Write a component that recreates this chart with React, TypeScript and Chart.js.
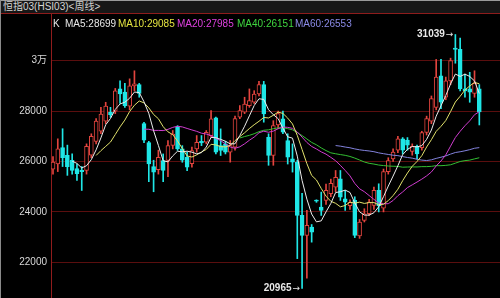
import React, { useEffect, useRef } from 'react';
import { Chart, registerables } from 'chart.js';

Chart.register(...registerables);

// Weekly candles (open / high / low / close)
const opens = [
  25700, 25900, 26550, 26250, 26050, 25720, 25650, 25650, 26250, 26800,
  27200, 27600, 27950, 28000, 28880, 28750, 28200, 29000, 29050, 27500,
  26750, 25800, 25680, 26040, 26040, 26640, 27360, 26500, 26170, 25910,
  26500, 26800, 26770, 27030, 27730, 26634, 26700, 26370, 26570, 27760,
  27960, 28220, 28350, 28680, 29050, 26960, 26240, 27450, 27690, 26830,
  26106, 25974, 23862, 23070, 23400, 24440, 24190, 24456, 24720, 24984,
  25314, 24522, 24250, 24456, 23050, 23664, 23928, 24258, 24852, 24150,
  25600, 26106, 26450, 26900, 26850, 26400, 26600, 26550, 27150, 27600,
  28150, 29400, 28550, 29200, 30500, 30450, 28880, 28880, 28700, 28880,
];
const highs = [
  26200, 26900, 27300, 26650, 26300, 25900, 25800, 26700, 27100, 27700,
  28150, 28350, 28150, 28900, 29200, 29100, 29280, 29600, 29100, 27550,
  26800, 26050, 26450, 26300, 26830, 27230, 27420, 26630, 26370, 26570,
  27030, 27030, 27230, 28020, 27760, 27294, 26800, 26832, 27800, 28220,
  28550, 28880, 28810, 29180, 29180, 27100, 27620, 28000, 28000, 27100,
  26700, 26050, 24733, 24060, 23500, 24480, 24785, 25100, 25300, 25644,
  25644, 24852, 24480, 24600, 23700, 24126, 24500, 24990, 25116, 25700,
  26150, 26500, 27000, 26950, 26950, 26700, 26650, 27200, 27800, 28600,
  30050, 30050, 29350, 30100, 31039, 30900, 29470, 29540, 29600, 29050,
];
const lows = [
  25500, 25600, 25800, 25450, 25500, 25250, 24850, 25500, 26150, 26700,
  27100, 27500, 27750, 27900, 28300, 28150, 28050, 28800, 28550, 26750,
  25200, 24800, 25500, 25200, 25400, 26500, 26440, 25970, 25640, 25780,
  26370, 26630, 26700, 26960, 26300, 26238, 26300, 25974, 26450, 27700,
  27900, 28150, 28300, 28600, 27560, 25850, 25850, 27300, 27100, 25900,
  25580, 22146, 20965, 21370, 22800, 24380, 23860, 24300, 24600, 24800,
  24456, 24060, 24100, 22980, 22950, 23600, 23850, 24100, 24000, 24000,
  25500, 26000, 26350, 26300, 26450, 26250, 26100, 26450, 27050, 27500,
  28050, 28100, 28450, 29050, 29900, 28800, 28550, 28350, 28550, 27450,
];
const closes = [
  25980, 26500, 26150, 25800, 25650, 25520, 25600, 26600, 27000, 27600,
  27880, 28200, 27860, 28800, 28680, 28220, 29000, 29080, 28700, 26850,
  25900, 25580, 26170, 25650, 26630, 27090, 26500, 26050, 25780, 26430,
  26760, 26740, 27160, 27690, 26370, 26436, 26370, 26634, 27700, 28020,
  28280, 28420, 28680, 29050, 27890, 26240, 27430, 27900, 27160, 26170,
  25974, 23862, 23070, 23466, 23200, 24430, 24060, 24852, 25130, 25370,
  24588, 24390, 24380, 23070, 23600, 23928, 24390, 24852, 24250, 25600,
  26040, 26370, 26900, 26450, 26650, 26600, 26300, 27150, 27700, 28500,
  29350, 28350, 29200, 30000, 30450, 28880, 28800, 28750, 29100, 27970,
];

const yTickValues = [22000, 24000, 26000, 28000, 30000];
const maPeriods = [5, 10, 20, 40, 60];
const maNames = ['MA5', 'MA10', 'MA20', 'MA40', 'MA60'];
const maShown = [28699, 29085, 27985, 26151, 26553];
const titleText = '恒指03(HSI03)<周线>';

const maLineColors = ['#ececec', '#e2e26c', '#cf3ccf', '#33bf33', '#8282dc'];
const maTextColors = ['#e6e6e6', '#e4e440', '#df40df', '#3fd63f', '#8a8ae6'];
const legendLeft = [65, 118, 177, 237, 295];
const UP = '#e2443e';
const DOWN = '#1fe6e6';
const FONT = '"Liberation Sans", "Noto Sans CJK SC", sans-serif';

function movingAverage(values: number[], n: number) {
  return values.map((_, i) =>
    i < n - 1 ? null : values.slice(i - n + 1, i + 1).reduce((a, b) => a + b, 0) / n
  );
}

function drawMark(ctx: any, text: string, tipX: number, y: number) {
  ctx.font = '9px "DejaVu Sans", sans-serif';
  const aw = ctx.measureText('→').width;
  ctx.fillText('→', tipX, y);
  ctx.font = 'bold 10px ' + FONT;
  ctx.fillText(text, tipX - aw - 1, y);
}

const extremeLabels = {
  id: 'extremeLabels',
  afterDatasetsDraw(chart: any) {
    const { ctx, scales } = chart;
    const x = scales.x;
    const y = scales.y;
    let hi = 0;
    let lo = 0;
    highs.forEach((v, i) => { if (v > highs[hi]) hi = i; });
    lows.forEach((v, i) => { if (v < lows[lo]) lo = i; });
    ctx.save();
    ctx.fillStyle = '#e8e8e8';
    ctx.textAlign = 'right';
    ctx.textBaseline = 'middle';
    drawMark(ctx, String(highs[hi]), x.getPixelForValue(hi) - 2, y.getPixelForValue(highs[hi]));
    drawMark(ctx, String(lows[lo]), x.getPixelForValue(lo) - 2, y.getPixelForValue(lows[lo]));
    ctx.restore();
  },
};

export default function App() {
  const ref = useRef<HTMLCanvasElement | null>(null);

  useEffect(() => {
    document.body.style.margin = '0';
    document.body.style.background = '#000';
    if (!ref.current) return;
    const up = closes.map((c, i) => c >= opens[i]);
    const lineSets = maPeriods.map((p, k) => ({
      type: 'line' as const,
      data: movingAverage(closes, p).map((v, i) => ({ x: i, y: v })),
      borderColor: maLineColors[k],
      borderWidth: 1,
      pointRadius: 0,
      tension: 0,
      fill: false,
      order: 0,
    }));
    const chart = new Chart(ref.current, {
      type: 'bar',
      data: {
        datasets: [
          ...lineSets,
          {
            type: 'bar',
            data: closes.map((c, i) => ({ x: i, y: [opens[i], c] })),
            backgroundColor: up.map((u) => (u ? '#000000' : DOWN)),
            borderColor: up.map((u) => (u ? UP : DOWN)),
            borderWidth: 1,
            borderSkipped: false,
            barThickness: 4,
            grouped: false,
            minBarLength: 1,
            order: 1,
          },
          {
            type: 'bar',
            data: highs.map((h, i) => ({ x: i, y: [lows[i], h] })),
            backgroundColor: up.map((u) => (u ? UP : DOWN)),
            borderWidth: 0,
            barThickness: 1,
            grouped: false,
            minBarLength: 1,
            order: 2,
          },
        ] as any,
      },
      options: {
        responsive: false,
        animation: false,
        devicePixelRatio: 1,
        events: [],
        layout: { padding: { top: 14, left: 0, right: 0, bottom: 0 } },
        plugins: { legend: { display: false }, tooltip: { enabled: false } },
        scales: {
          x: { type: 'linear', min: -0.418, max: 93.32, display: false, offset: false },
          y: {
            type: 'linear',
            position: 'left',
            min: 20584,
            max: 31853,
            afterFit(s: any) {
              s.width = 51;
              s.paddingTop = 0;
              s.paddingBottom = 0;
            },
            afterBuildTicks(s: any) {
              s.ticks = yTickValues.map((v) => ({ value: v }));
            },
            ticks: {
              callback: (v: any) => (v === 30000 ? '3万' : String(v)),
              color: '#d8d8d8',
              font: { family: FONT, size: 10 },
              padding: 4,
            },
            grid: { color: '#5a0e0e', drawTicks: false, lineWidth: 1 },
            border: { display: true, color: '#901c1c', width: 1 },
          },
        },
      } as any,
      plugins: [extremeLabels],
    });
    return () => chart.destroy();
  }, []);

  return (
    <div style={{ position: 'relative', width: 500, height: 298, background: '#000', overflow: 'hidden' }}>
      <canvas ref={ref} width={500} height={298} style={{ position: 'absolute', left: 0, top: 0 }} />
      <div
        style={{
          position: 'absolute', left: 0, top: 0, width: 500, height: 13,
          background: '#171717', borderTop: '1px solid #9a9a9a', boxSizing: 'border-box',
        }}
      />
      <div style={{ position: 'absolute', left: 0, top: 13, width: 500, height: 1, background: '#8e1c1c' }} />
      <div style={{ position: 'absolute', left: 0, top: 0, width: 1, height: 298, background: '#8a8a8a' }} />
      <div
        style={{
          position: 'absolute', left: 3, top: 0, height: 13, lineHeight: '13px',
          fontFamily: FONT, fontSize: 10, color: '#d4d4d4', whiteSpace: 'nowrap',
        }}
      >
        {titleText}
      </div>
      <div
        style={{
          position: 'absolute', left: 53, top: 17, lineHeight: '13px',
          fontFamily: FONT, fontSize: 10, color: '#e6e6e6', whiteSpace: 'nowrap',
        }}
      >
        K
      </div>
      {maNames.map((n, k) => (
        <div
          key={n}
          style={{
            position: 'absolute', left: legendLeft[k], top: 17, lineHeight: '13px',
            fontFamily: FONT, fontSize: 10, color: maTextColors[k], whiteSpace: 'nowrap',
          }}
        >
          {`${n}:${maShown[k]}`}
        </div>
      ))}
    </div>
  );
}
